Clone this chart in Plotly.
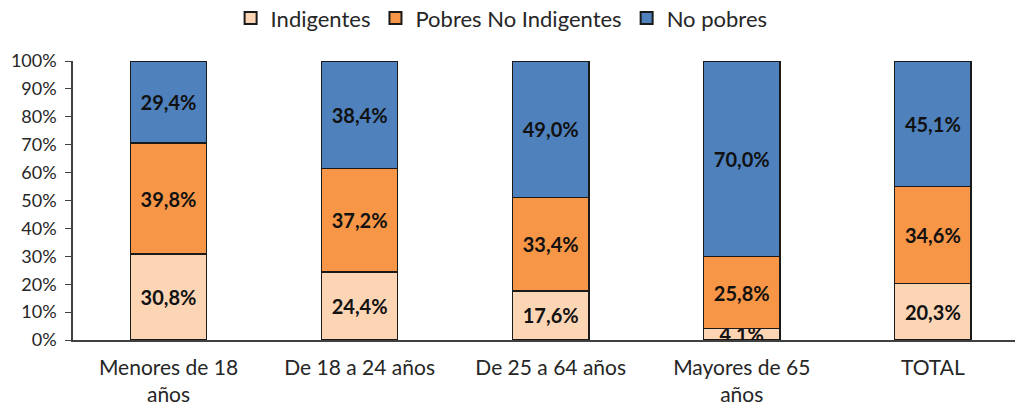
import plotly.graph_objects as go

categories = ["Menores de 18<br>años", "De 18 a 24 años", "De 25 a 64 años", "Mayores de 65<br>años", "TOTAL"]
indigentes = [30.8, 24.4, 17.6, 4.1, 20.3]
pobres_no_indigentes = [39.8, 37.2, 33.4, 25.8, 34.6]
no_pobres = [29.4, 38.4, 49.0, 70.0, 45.1]
y_ticks = [0, 10, 20, 30, 40, 50, 60, 70, 80, 90, 100]

series = [
    ("Indigentes", indigentes, "#FCD5B5"),
    ("Pobres No Indigentes", pobres_no_indigentes, "#F79646"),
    ("No pobres", no_pobres, "#4F81BD"),
]

FONT = "Lato"

def fmt(v):
    return f"{v:.1f}".replace(".", ",") + "%"

fig = go.Figure()
for name, vals, color in series:
    fig.add_trace(go.Bar(
        name=name,
        x=list(range(len(categories))),
        y=vals,
        width=0.4,
        marker=dict(color=color, line=dict(color="#1a1a1a", width=1.2)),
        text=[fmt(v) for v in vals],
        textposition="inside",
        insidetextanchor="middle",
        constraintext="none",
        textangle=0,
        textfont=dict(family=FONT, size=20, color="#111111", weight="bold"),
    ))

fig.update_layout(
    barmode="stack",
    width=1015, height=412,
    margin=dict(l=73, r=0, t=61, b=72, autoexpand=False),
    paper_bgcolor="white", plot_bgcolor="white",
    font=dict(family=FONT, size=18, color="#262626"),
    legend=dict(
        orientation="h", x=0.455, xanchor="center",
        yref="container", y=0.956, yanchor="middle",
        font=dict(family=FONT, size=22, color="#262626"),
        itemsizing="constant", traceorder="normal",
    ),
    showlegend=True,
)
fig.update_xaxes(
    tickmode="array", tickvals=list(range(len(categories))), ticktext=categories,
    range=[-0.5, 4.43], showline=True, linecolor="#404040", linewidth=1.5,
    ticks="", showgrid=False, zeroline=False, automargin=False,
    ticklabelstandoff=8,
    tickfont=dict(family=FONT, size=21, color="#262626"),
)
fig.update_yaxes(
    range=[0, 100], tickmode="array", tickvals=y_ticks,
    ticktext=[f"{t}%" for t in y_ticks],
    showline=True, linecolor="#404040", linewidth=1.5,
    ticks="outside", ticklen=6, tickcolor="#404040",
    showgrid=False, zeroline=False, automargin=False,
    ticklabelstandoff=5,
    tickfont=dict(family=FONT, size=18, color="#262626"),
)

fig.write_html("out.html", config={"displayModeBar": False},
               post_script="document.body.style.margin='0';")
